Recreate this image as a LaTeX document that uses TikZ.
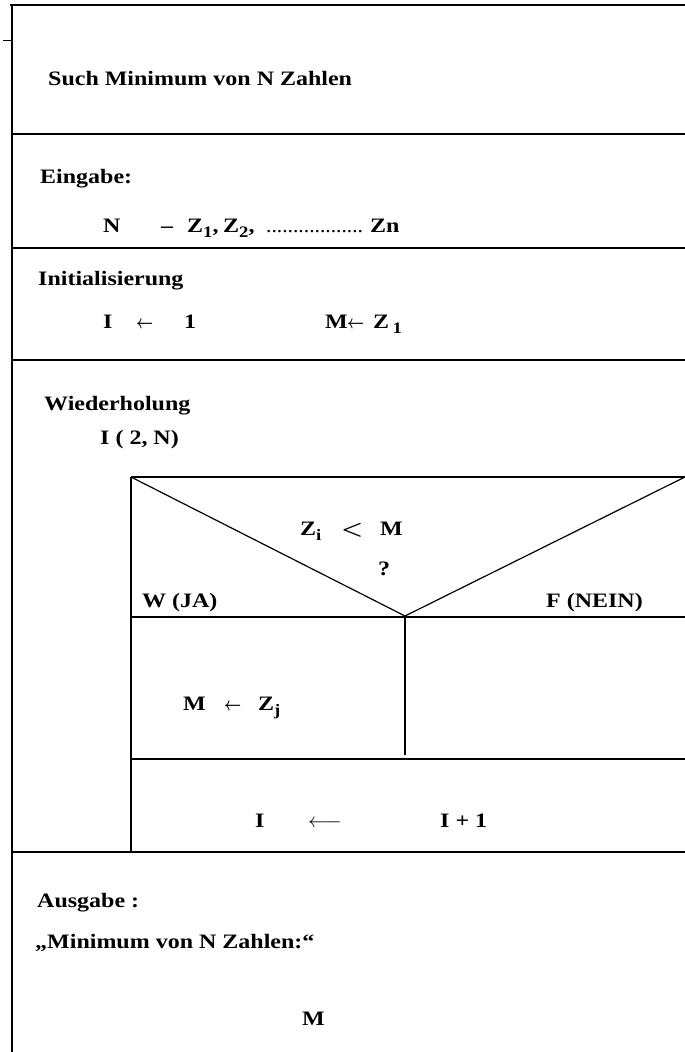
\documentclass[tikz,border=0pt]{standalone}
\usepackage{fontspec}
\setmainfont{Liberation Serif}
\newcommand{\lowsub}[1]{\raisebox{-0.55ex}{\fontsize{16}{16}\selectfont #1}}
\newcommand{\wide}[1]{\scalebox{1.17}[1]{#1}}
\newcommand{\shortarr}{\scalebox{0.72}[0.9]{{\boldmath$\leftarrow$}}}
\tikzset{
  txt/.style={anchor=base west, inner sep=0pt, font=\fontsize{20.5}{24}\selectfont\bfseries},
  rule/.style={line width=1.2pt},
  border/.style={line width=1.8pt}
}
\begin{document}
\begin{tikzpicture}[x=1pt,y=-1pt]
\useasboundingbox[fill=white] (0,0) rectangle (685,1052);
% frame
\coordinate (tl) at (10,5);
\coordinate (tr) at (685,5);
\coordinate (lt) at (12,4);
\coordinate (bl) at (12,1052);
\coordinate (tk1) at (3,40);
\coordinate (tk2) at (12,40);
\draw[rule] (tl) -- (tr);
\draw[border] (lt) -- (bl);
\draw[line width=1pt] (tk1) -- (tk2);
% section separators
\coordinate (s1l) at (12,134); \coordinate (s1r) at (685,134);
\coordinate (s2l) at (12,248); \coordinate (s2r) at (685,248);
\coordinate (s3l) at (12,360); \coordinate (s3r) at (685,360);
\coordinate (s4l) at (12,852); \coordinate (s4r) at (685,852);
\draw[rule] (s1l) -- (s1r);
\draw[rule] (s2l) -- (s2r);
\draw[rule] (s3l) -- (s3r);
\draw[rule] (s4l) -- (s4r);
% inner loop box
\coordinate (bt) at (131,477);
\coordinate (btr) at (685,477);
\coordinate (vx) at (405,616);
\coordinate (m1l) at (131,617); \coordinate (m1r) at (685,617);
\coordinate (m2l) at (131,759); \coordinate (m2r) at (685,759);
\coordinate (vb) at (405,755);
\coordinate (bb) at (131,852);
\draw[rule] (bt) -- (btr);
\draw[border] (bt) -- (bb);
\draw[rule] (bt) -- (vx) -- (btr);
\draw[rule] (m1l) -- (m1r);
\draw[rule] (vx) -- (vb);
\draw[rule] (m2l) -- (m2r);
% texts
\node[txt] (title) at (48,85) {\wide{Such Minimum von N Zahlen}};
\node[txt] (ein) at (40,183) {\wide{Eingabe:}};
\node[txt] (nN) at (103,232) {\wide{N}};
\node[txt] (nd) at (161,232) {\wide{–}};
\node[txt] (nz1) at (187,232) {\wide{Z\lowsub{1},}};
\node[txt] (nz2) at (223,232) {\wide{Z\lowsub{2},}};
\node[txt] (ndots) at (266,232) {\textmd{\scalebox{1.05}[1]{..................}}};
\node[txt] (nzn) at (370,232) {\wide{Zn}};
\node[txt] (init) at (38,285) {\wide{Initialisierung}};
\node[txt] (iI) at (103,328) {\wide{I}};
\node[txt] (ia) at (136,328) {\shortarr};
\node[txt] (i1) at (184,328) {\wide{1}};
\node[txt] (mM) at (325,328) {\wide{M}};
\node[txt] (ma) at (347,328) {\shortarr};
\node[txt] (mz) at (373,328) {\wide{Z\hspace{3pt}\lowsub{1}}};
\node[txt] (wied) at (44,410) {\wide{Wiederholung}};
\node[txt] (i2n) at (100,444) {\wide{I ( 2, N)}};
\node[txt] (cz) at (300,535) {\wide{Z\lowsub{i}}};
\node[txt] (clt) at (341,535) {\scalebox{1.2}[1]{\boldmath$<$}};
\node[txt] (cm) at (380,535) {\wide{M}};
\node[txt] (q) at (378,575) {\wide{?}};
\node[txt] (ja) at (142,607) {\wide{W (JA)}};
\node[txt] (nein) at (546,607) {\wide{F (NEIN)}};
\node[txt] (jm) at (183,710) {\wide{M}};
\node[txt] (ja2) at (224,710) {\shortarr};
\node[txt] (jz) at (258,710) {\wide{Z\lowsub{j}}};
\node[txt] (iv) at (255,827) {\wide{I}};
\node[txt] (arr) at (308,827) {$\longleftarrow$};
\node[txt] (ip1) at (440,827) {\wide{I + 1}};
\node[txt] (aus) at (37,907) {\wide{Ausgabe :}};
\node[txt] (minq) at (35,948) {\wide{„Minimum von N Zahlen:“}};
\node[txt] (mout) at (302,1025) {\wide{M}};
\end{tikzpicture}
\end{document}
